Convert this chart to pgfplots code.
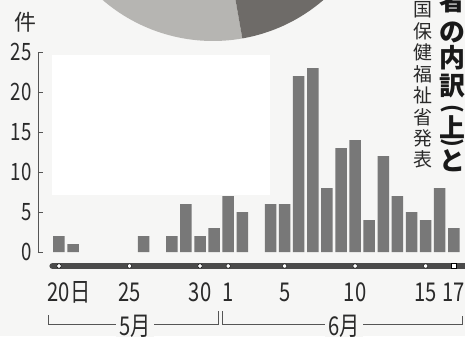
\documentclass[border=0pt]{standalone}
\usepackage{pgfplots}
\pgfplotsset{compat=1.18}
\usepackage{fontspec}
\setmainfont{Noto Sans CJK JP}
\newfontfamily\narrow[FakeStretch=0.78]{Noto Sans CJK JP}
\definecolor{barc}{HTML}{787878}
\definecolor{bg}{HTML}{F6F6F5}
\definecolor{tl}{HTML}{4A4A4A}
\definecolor{axc}{HTML}{555555}
\definecolor{txt}{HTML}{2A2A2A}
\definecolor{pielight}{HTML}{B6B5B2}
\definecolor{piedark}{HTML}{6E6B68}
\begin{document}
\begin{tikzpicture}[x=1bp,y=1bp]
\useasboundingbox (-38,-84) rectangle (427,252);
\clip (-38,-84) rectangle (427,252);
\fill[bg] (-38,-84) rectangle (427,252);
\fill[white] (14,57) rectangle (232,197);
% pie fragment
\fill[pielight] (175,380) -- ++(-190:169) arc[start angle=-190, end angle=-80, radius=169] -- cycle;
\fill[piedark] (175,380) -- ++(-80:169) arc[start angle=-80, end angle=10, radius=169] -- cycle;
\begin{axis}[
  at={(0,0)}, anchor=south west, scale only axis,
  width=424bp, height=200bp,
  xmin=-1.489, xmax=28.58, ymin=0, ymax=25,
  clip=false,
  axis lines*=left,
  x axis line style={draw=none},
  y axis line style={draw=axc, line width=0.8bp},
  tick align=inside,
  xtick={0,5,10,12,16,21,26,28},
  xticklabels={20\rlap{日},25,30,1,5,10,15,17},
  xtick style={draw=none},
  xticklabel style={anchor=base, yshift=-49bp, text=txt, font=\narrow\fontsize{26}{26}\selectfont},
  ytick={0,5,10,15,20,25},
  yticklabels={0,5,10,15,20,25},
  ytick pos=left,
  ytick style={draw=axc, line width=0.8bp},
  major tick length=5bp,
  yticklabel style={anchor=east, xshift=-3bp, text=txt, font=\narrow\fontsize{24}{24}\selectfont},
]
\addplot[ybar, bar width=11.5bp, fill=barc, draw=none] coordinates {
  (0,2) (1,1) (6,2) (8,2) (9,6) (10,2) (11,3) (12,7) (13,5) (15,6) (16,6)
  (17,22) (18,23) (19,8) (20,13) (21,14) (22,4) (23,12) (24,7) (25,5)
  (26,4) (27,8) (28,3)};
% timeline
\addplot[draw=tl, line width=6.5bp, line cap=round] coordinates {(-0.45,-1.75) (30,-1.75)};
\addplot[only marks, mark=*, mark size=2.2bp, mark options={fill=white, draw=none}] coordinates {
  (0,-1.75) (5,-1.75) (10,-1.75) (12,-1.75) (16,-1.75) (21,-1.75) (26,-1.75)};
\addplot[only marks, mark=square*, mark size=2.4bp, mark options={fill=white, draw=black, line width=0.6bp}] coordinates {(28,-1.75)};
% month brackets
\addplot[draw=axc, line width=0.7bp] coordinates {(-0.78,-7.9) (-0.78,-9) (11.3,-9) (11.3,-7.4)};
\addplot[draw=axc, line width=0.7bp] coordinates {(11.55,-7.4) (11.55,-9) (28.58,-9) (28.58,-8.0)};
\node[fill=bg, inner xsep=3bp, inner ysep=0bp, text=txt, font=\narrow\fontsize{26}{26}\selectfont] at (axis cs:5.39,-9.3) {5月};
\node[fill=bg, inner xsep=3bp, inner ysep=0bp, text=txt, font=\narrow\fontsize{26}{26}\selectfont] at (axis cs:20.2,-9.3) {6月};
\end{axis}
% unit label
\node[text=txt, font=\fontsize{22}{22}\selectfont] at (-13,230) {件};
% vertical small column
\foreach \c [count=\i from 0] in {国,保,健,福,祉,省,発,表} {
  \node[text=txt, font=\fontsize{19}{19}\selectfont, inner sep=0] at (385, {252-10-21.4*\i}) {\c};
}
% vertical big bold column
\foreach \c/\py in {者/1, の/32, 内/58, 訳/86, 上/127, と/161} {
  \node[text=black!90, font=\bfseries\fontsize{26}{26}\selectfont, inner sep=0] at (414, {252-\py}) {\c};
}
\node[rotate=-90, text=black!90, font=\bfseries\fontsize{22}{22}\selectfont, inner sep=0] at (414, {252-109}) {(};
\node[rotate=-90, text=black!90, font=\bfseries\fontsize{22}{22}\selectfont, inner sep=0] at (414, {252-143}) {)};
\end{tikzpicture}
\end{document}
